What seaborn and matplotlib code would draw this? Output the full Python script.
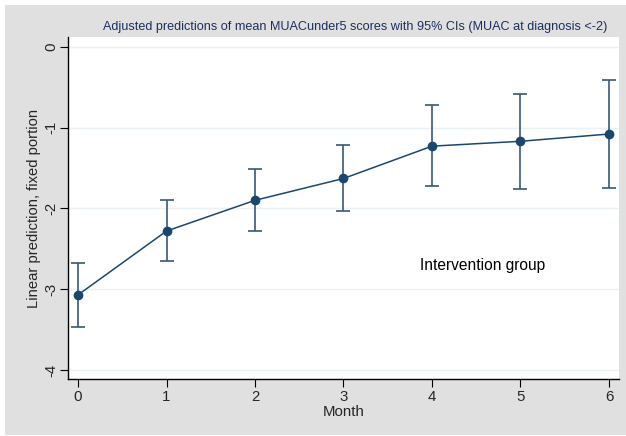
import matplotlib
matplotlib.use("Agg")
import matplotlib.pyplot as plt
import seaborn as sns
import numpy as np
import pandas as pd
from matplotlib.patches import Rectangle

months = [0, 1, 2, 3, 4, 5, 6]
prediction = [-3.07, -2.28, -1.90, -1.63, -1.23, -1.17, -1.08]
ci_lower = [-3.47, -2.65, -2.28, -2.03, -1.72, -1.76, -1.75]
ci_upper = [-2.67, -1.90, -1.51, -1.21, -0.72, -0.58, -0.41]
y_ticks = [0, -1, -2, -3, -4]
x_ticks = [0, 1, 2, 3, 4, 5, 6]
title = "Adjusted predictions of mean MUACunder5 scores with 95% CIs (MUAC at diagnosis <-2)"
annotation = "Intervention group"

sns.set_theme(style="white")
plt.rcParams['font.family'] = ['Liberation Sans', 'DejaVu Sans']

W, H = 626, 436
fig = plt.figure(figsize=(W / 100, H / 100), dpi=100, facecolor="white")
bg = Rectangle((5 / W, 1 - 435 / H), (W - 5) / W, (435 - 5) / H,
               transform=fig.transFigure, facecolor="#e0e0e0",
               edgecolor="none", zorder=-10)
fig.patches.append(bg)
ax = fig.add_axes([68 / W, 1 - 379 / H, (619 - 68) / W, (379 - 37) / H])
ax.set_zorder(1)
ax.set_facecolor("white")

df = pd.DataFrame({"Month": months, "pred": prediction,
                   "lo": ci_lower, "hi": ci_upper})
navy = "#1a476f"
yerr = np.array([df["pred"] - df["lo"], df["hi"] - df["pred"]])
ax.errorbar(df["Month"], df["pred"], yerr=yerr, fmt="none", ecolor="#37597c",
            elinewidth=1.2, capsize=5, capthick=1.2, zorder=2)
sns.lineplot(data=df, x="Month", y="pred", ax=ax, color=navy, linewidth=1.1,
             marker="o", markersize=7, markeredgewidth=0, zorder=3)

ax.set_xlim(-0.113, 6.113)
ax.set_ylim(-4.11, 0.12)
ax.set_yticks(y_ticks)
ax.set_yticklabels([str(v) for v in y_ticks], rotation=90, va="center", fontsize=10.8)
ax.set_xticks(x_ticks)
ax.set_xticklabels([str(v) for v in x_ticks], fontsize=10.8)
ax.tick_params(axis="both", direction="out", length=5.5, width=0.8, color="black",
               bottom=True, left=True)
ax.tick_params(axis="y", pad=1.5)
ax.tick_params(axis="x", pad=2.5)
ax.yaxis.grid(True, color="#eaf2f3", linewidth=1.0)
ax.xaxis.grid(False)
for s in ["top", "right"]:
    ax.spines[s].set_visible(False)
for s in ["left", "bottom"]:
    ax.spines[s].set_color("black")
    ax.spines[s].set_linewidth(1.0)

ax.set_xlabel("Month", fontsize=10.8, labelpad=0.5)
ax.set_ylabel("Linear prediction, fixed portion", fontsize=10.6, labelpad=2)

ax.text(3.87, -2.71, annotation, fontsize=11.2, ha="left", va="center", color="black")
fig.text(355 / W, 1 - 27 / H, title, fontsize=9.1, ha="center", va="center", color="#1c2f5e")

fig.savefig("out.png", dpi=100, facecolor="white")
